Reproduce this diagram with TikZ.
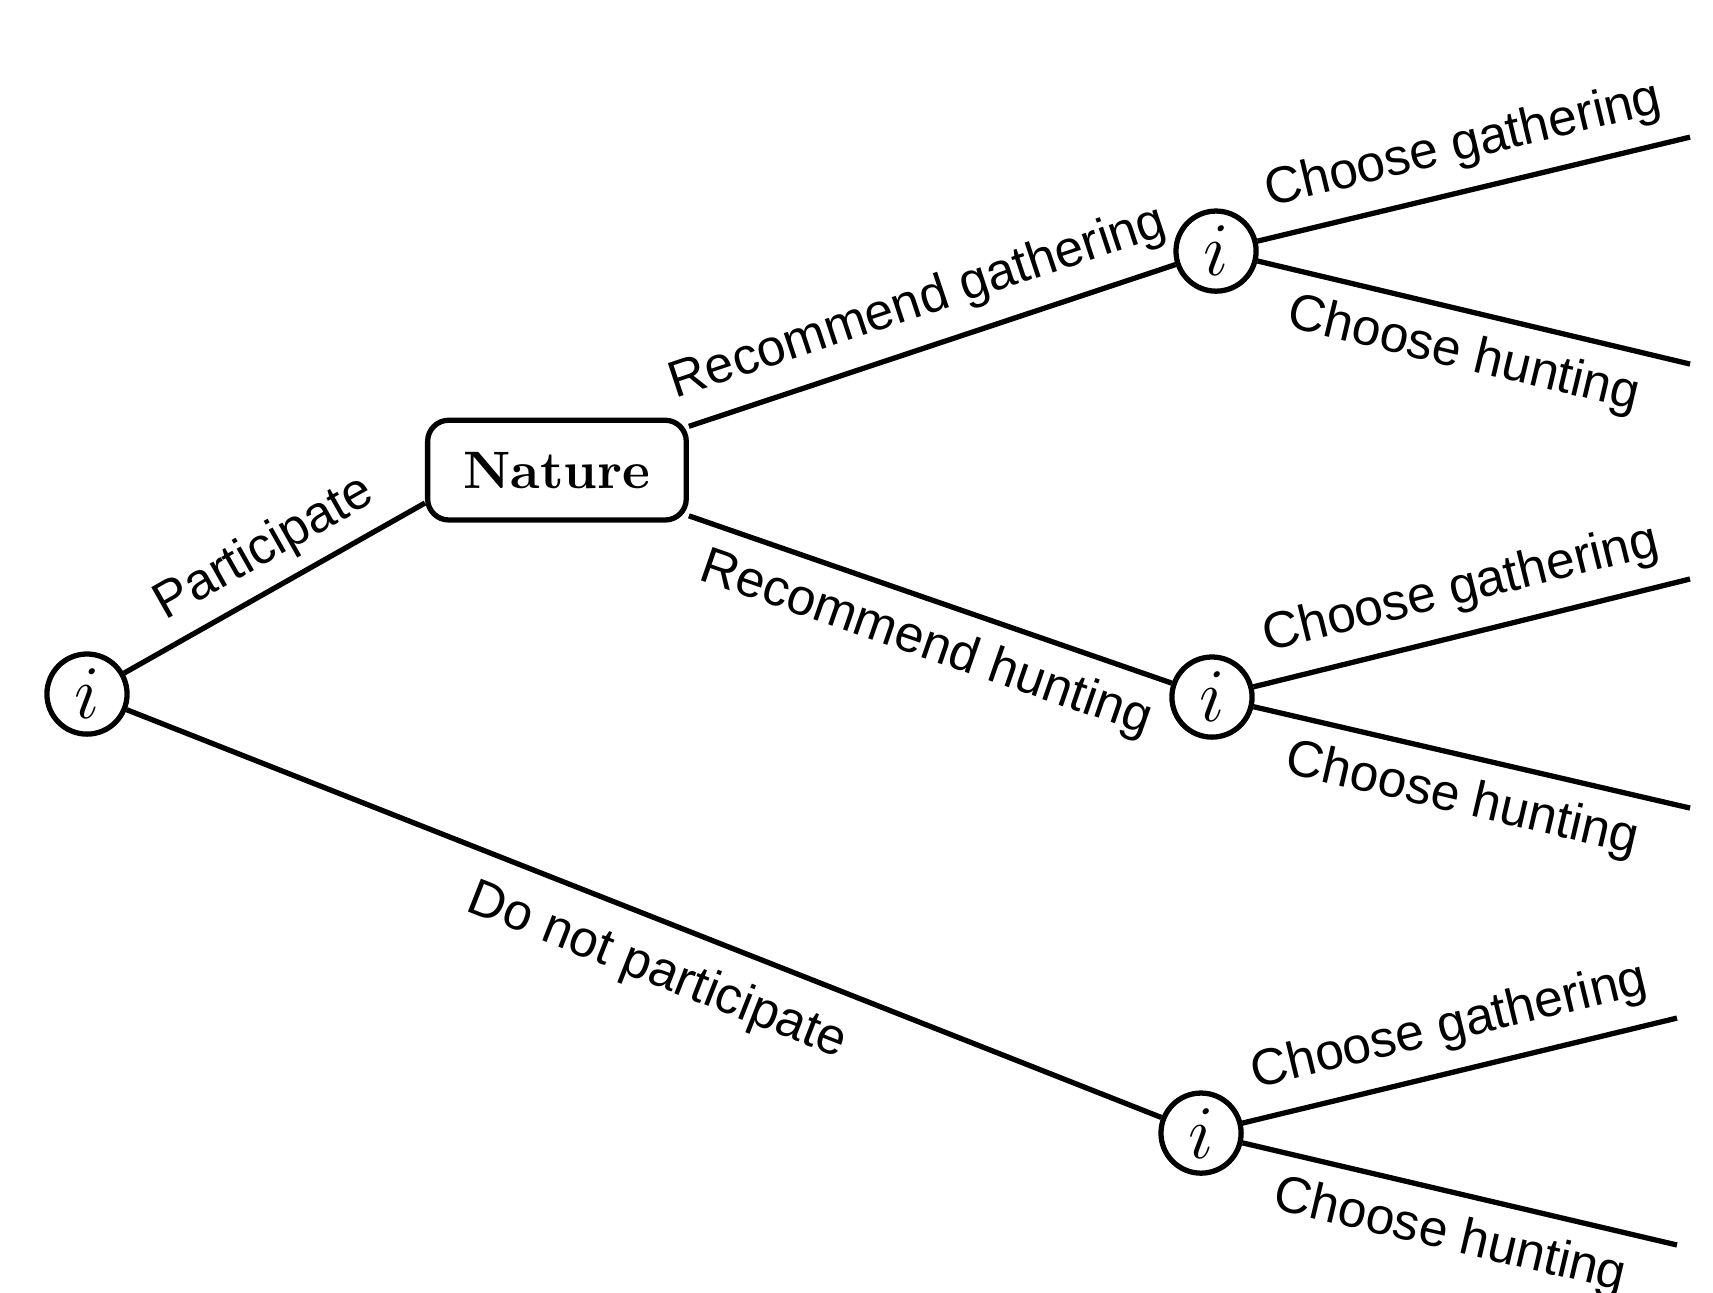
\documentclass[tikz,border=0pt]{standalone}
\usepackage{fontspec}
\newfontfamily\lblfont{Liberation Sans}
\usetikzlibrary{positioning}
\tikzset{
  branch/.style     = {line width=1pt, black},
  playernode/.style = {circle, draw, line width=1pt, minimum size=15.2pt,
                       inner sep=0pt, font=\Large, fill=white},
  naturenode/.style = {rectangle, rounded corners=4pt, draw, line width=1pt,
                       inner xsep=6.8pt, inner ysep=6pt, font=\bfseries, fill=white},
  actlbl/.style     = {font=\lblfont\fontsize{9.75}{12}\selectfont, sloped},
}

\begin{document}
\begin{tikzpicture}
  \useasboundingbox (-0.58,-3.987) rectangle (10.84,4.627);

  % decision nodes
  \node[playernode] (root) at (0,0) {$i$};
  \node[naturenode] (nat) at (3.133,1.493) {Nature};
  \node[playernode] (recg) at (7.527,2.953) {$i$};
  \node[playernode] (rech) at (7.5,-0.02) {$i$};
  \node[playernode] (nopart) at (7.427,-2.927) {$i$};

  % loose ends of the last moves
  \coordinate (recgG) at (10.687,3.713);
  \coordinate (recgH) at (10.687,2.2);
  \coordinate (rechG) at (10.687,0.767);
  \coordinate (rechH) at (10.687,-0.76);
  \coordinate (nopartG) at (10.6,-2.16);
  \coordinate (nopartH) at (10.6,-3.673);

  % first move
  \draw[branch] (root) -- node[actlbl, above=-1pt, pos=0.53] {Participate} (nat.194);
  \draw[branch] (root) -- node[actlbl, below=1pt, pos=0.53] {Do not participate} (nopart);

  % nature's recommendation
  \draw[branch] (nat) -- node[actlbl, above] {Recommend gathering} (recg);
  \draw[branch] (nat) -- node[actlbl, below, pos=0.52] {Recommend hunting} (rech);

  % final choices
  \draw[branch] (recg) -- node[actlbl, above] {Choose gathering} (recgG);
  \draw[branch] (recg) -- node[actlbl, below] {Choose hunting} (recgH);
  \draw[branch] (rech) -- node[actlbl, above] {Choose gathering} (rechG);
  \draw[branch] (rech) -- node[actlbl, below] {Choose hunting} (rechH);
  \draw[branch] (nopart) -- node[actlbl, above] {Choose gathering} (nopartG);
  \draw[branch] (nopart) -- node[actlbl, below] {Choose hunting} (nopartH);
\end{tikzpicture}
\end{document}
